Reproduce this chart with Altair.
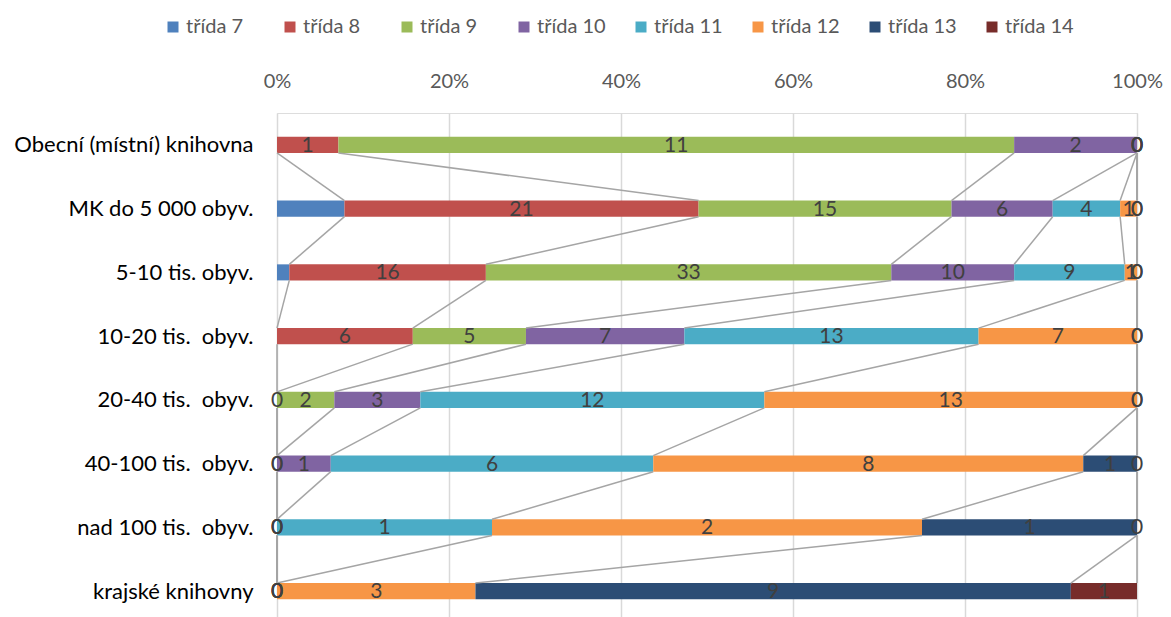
import altair as alt
import pandas as pd

categories = [
    "Obecní (místní) knihovna",
    "MK do 5 000 obyv.",
    "5-10 tis. obyv.",
    "10-20 tis.\u00a0 obyv.",
    "20-40 tis.\u00a0 obyv.",
    "40-100 tis.\u00a0 obyv.",
    "nad 100 tis.\u00a0 obyv.",
    "krajské knihovny",
]
series_names = ["třída 7", "třída 8", "třída 9", "třída 10", "třída 11", "třída 12", "třída 13", "třída 14"]
colors = ["#4F81BD", "#C0504D", "#9BBB59", "#8064A2", "#4BACC6", "#F79646", "#2C4D75", "#772C2A"]

t7 = [0, 4, 1, 0, 0, 0, 0, 0]
t8 = [1, 21, 16, 6, 0, 0, 0, 0]
t9 = [11, 15, 33, 5, 2, 0, 0, 0]
t10 = [2, 6, 10, 7, 3, 1, 0, 0]
t11 = [0, 4, 9, 13, 12, 6, 1, 0]
t12 = [0, 1, 1, 7, 13, 8, 2, 3]
t13 = [0, 0, 0, 0, 0, 1, 1, 9]
t14 = [0, 0, 0, 0, 0, 0, 0, 1]
series_values = [t7, t8, t9, t10, t11, t12, t13, t14]
labelled = [False, True, True, True, True, True, True, True]

HALF = 0.126  # half bar thickness in category units

# build segments
seg_rows = []
cum_end = {}
for ci, cat in enumerate(categories):
    total = sum(sv[ci] for sv in series_values)
    acc = 0.0
    for si, name in enumerate(series_names):
        v = series_values[si][ci]
        start = acc / total
        acc += v
        end = acc / total
        cum_end[(si, ci)] = end
        seg_rows.append({
            "cat": cat, "idx": ci, "series": name, "order": si,
            "value": v, "start": start, "end": end,
            "mid": (start + end) / 2, "lab": labelled[si],
            "ytop": ci - HALF, "ybot": ci + HALF,
        })
seg = pd.DataFrame(seg_rows)

line_rows = []
for si, name in enumerate(series_names):
    for ci in range(len(categories) - 1):
        line_rows.append({
            "series": name,
            "x": cum_end[(si, ci)], "x2": cum_end[(si, ci + 1)],
            "y": ci + HALF, "y2": ci + 1 - HALF,
        })
lines = pd.DataFrame(line_rows)

label_expr = "[" + ",".join("'" + c + "'" for c in categories) + "][datum.value]"

xscale = alt.Scale(domain=[0, 1], nice=False, zero=False)
yscale = alt.Scale(domain=[-0.5, len(categories) - 0.5], reverse=True, nice=False, zero=False)

bars = alt.Chart(seg).mark_rect().encode(
    x=alt.X("start:Q", scale=xscale,
            axis=alt.Axis(orient="top", values=[0, 0.2, 0.4, 0.6, 0.8, 1.0], format=".0%",
                          title=None, domain=False, ticks=False, grid=True,
                          gridColor="#D9D9D9", gridWidth=1.5, labelColor="#595959",
                          labelFontSize=20, labelFont="Lato", labelPadding=22,
                          labelFlush=False, labelOverlap=False)),
    x2="end:Q",
    y=alt.Y("ytop:Q", scale=yscale,
            axis=alt.Axis(values=list(range(len(categories))), labelExpr=label_expr,
                          title=None, domain=False, ticks=False, grid=False,
                          labelColor="#000000", labelFontSize=22, labelFont="Lato",
                          labelPadding=24, labelLimit=0, labelFlush=False,
                          labelOverlap=False)),
    y2="ybot:Q",
    color=alt.Color("series:N", scale=alt.Scale(domain=series_names, range=colors),
                    legend=alt.Legend(title=None, orient="none", direction="horizontal",
                                      legendX=-114, legendY=-96, symbolType="square",
                                      symbolSize=121, symbolStrokeWidth=0,
                                      labelFont="Lato", labelFontSize=20,
                                      labelColor="#595959", labelOffset=3,
                                      columns=8, gridAlign="all",
                                      columnPadding=25)),
)

rules = alt.Chart(lines).mark_rule(color="#A5A5A5", strokeWidth=1.5).encode(
    x=alt.X("x:Q", scale=xscale), x2="x2:Q",
    y=alt.Y("y:Q", scale=yscale), y2="y2:Q",
)

texts = alt.Chart(seg).transform_filter("datum.lab").mark_text(
    font="Lato", fontSize=21, color="#404040", baseline="middle", dy=1
).encode(
    x=alt.X("mid:Q", scale=xscale),
    y=alt.Y("idx:Q", scale=yscale),
    text=alt.Text("value:Q"),
)

chart = alt.layer(bars, rules, texts).properties(
    width=860, height=510,
    autosize=alt.AutoSizeParams(type="none"),
    padding={"left": 269, "top": 105, "right": 26, "bottom": 0},
).configure_view(stroke=None).configure(background="white")

chart.save("out.html", embed_options={"renderer": "svg", "actions": False})
